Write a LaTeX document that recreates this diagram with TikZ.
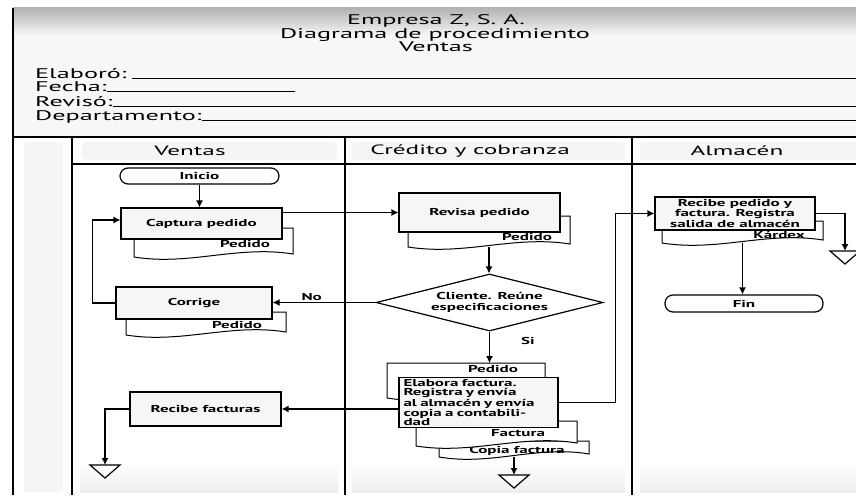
\documentclass[tikz,border=0pt]{standalone}
\usepackage{fontspec}
\setmainfont[FakeStretch=1.87]{PT Sans}
\newfontfamily\cajafont[FakeStretch=1.7]{PT Sans}
\usetikzlibrary{shapes.geometric,arrows.meta}
\newcommand{\documento}[7]{%
 \draw[doc] (#2,#3) -- (#4,#3) -- (#4,#5-3) .. controls ({#2+0.65*(#4-#2)},{#5-12}) and ({#2+0.35*(#4-#2)},{#5+9}) .. (#2,#5) -- cycle;%
 \coordinate (#1) at ({(#2+#4)/2},#5);%
 \coordinate (#1-top) at ({(#2+#4)/2},#3);%
 \node[doclabel] (#1-txt) at (#6) {#7};%
}
\newcommand{\archivo}[2]{%
 \coordinate (#1) at (#2);%
 \draw[conector,fill=white] (#1) ++(-15,0) -- ++(30,0) -- ++(-15,13) -- cycle;%
}
\tikzset{
 titulo/.style={anchor=base,inner sep=0pt,font=\fontsize{14}{14}\selectfont},
 campo/.style={anchor=base west,inner sep=0pt,font=\fontsize{14}{14}\selectfont},
 carril/.style={line width=2pt},
 cabecera/.style={inner sep=0pt,font=\fontsize{13.5}{14}\selectfont},
 proceso/.style={draw,line width=1.2pt,fill=gray!7,inner sep=2pt,align=center,font=\cajafont\bfseries\fontsize{10}{9}\selectfont},
 terminal/.style={draw,line width=1.2pt,fill=white,rounded corners=8pt,minimum width=159pt,minimum height=16pt,inner sep=0pt,font=\cajafont\bfseries\fontsize{10}{9}\selectfont},
 decision/.style={diamond,aspect=4,draw,line width=1.2pt,fill=white,minimum width=227pt,minimum height=57pt,inner sep=0pt,align=center,font=\cajafont\bfseries\fontsize{10}{11}\selectfont},
 doc/.style={draw,line width=1pt,fill=white},
 doclabel/.style={inner sep=0pt,font=\cajafont\bfseries\fontsize{10}{9}\selectfont},
 conector/.style={line width=1.2pt},
 etiqueta/.style={inner sep=1pt,font=\cajafont\bfseries\fontsize{10}{9}\selectfont},
}
\begin{document}
\begin{tikzpicture}[x=1pt,y=-1pt,>={Latex[length=7pt,width=7pt]}]
 \useasboundingbox (0,0) rectangle (856,495);
 % encabezado
 \shade[top color=gray!60,bottom color=gray!6] (13,8) rectangle (856,36);
 \fill[gray!6] (13,36) rectangle (856,137);
 \node[titulo] (empresa) at (436,25) {Empresa Z, S. A.};
 \node[titulo] (diagrama) at (435,38.5) {Diagrama de procedimiento};
 \node[titulo] (nombre) at (436,52) {Ventas};
 \node[campo] (elaboro) at (35,78) {Elaboró:};
 \node[campo] (fecha) at (35,91) {Fecha:};
 \node[campo] (reviso) at (35,106) {Revisó:};
 \node[campo] (depto) at (35,120) {Departamento:};
 \draw[line width=0.8pt] (elaboro.base east) ++(5,0) -- (856,78);
 \draw[line width=0.8pt] (fecha.base east) -- (295,91);
 \draw[line width=0.8pt] (reviso.base east) -- (856,106);
 \draw[line width=0.8pt] (depto.base east) -- (856,120);
 % carriles
 \fill[gray!8,rounded corners=3pt] (24,142) rectangle (63,492);
 \fill[gray!8,rounded corners=3pt] (82,142) rectangle (337,160);
 \fill[gray!8,rounded corners=3pt] (352,142) rectangle (625,160);
 \fill[gray!8,rounded corners=3pt] (640,142) rectangle (860,160);
 \shade[top color=white,bottom color=gray!14] (80,462) rectangle (338,492);
 \shade[top color=white,bottom color=gray!14] (352,462) rectangle (625,492);
 \shade[top color=white,bottom color=gray!14] (640,462) rectangle (860,492);
 \draw[carril] (13,8) -- (13,495);
 \draw[carril] (13,137) -- (856,137);
 \draw[carril] (72,164) -- (856,164);
 \foreach \x in {72,345,632} \draw[carril] (\x,137) -- (\x,495);
 \node[cabecera] (ventas) at (190,151) {Ventas};
 \node[cabecera] (credito) at (470,151) {Crédito y cobranza};
 \node[cabecera] (almacen) at (737,151) {Almacén};
 % ventas
 \node[terminal] (inicio) at (199.5,176) {Inicio};
 \documento{dcap}{134}{228}{293}{257}{245,244}{Pedido}
 \node[proceso,minimum width=161pt,minimum height=31pt] (captura) at (201.5,223.5) {Captura pedido};
 \documento{dcor}{126}{312}{286}{335}{237,325}{Pedido}
 \node[proceso,minimum width=156pt,minimum height=32pt] (corrige) at (194,303) {Corrige};
 \node[proceso,minimum width=151pt,minimum height=34pt] (recfac) at (205.5,409) {Recibe facturas};
 \archivo{arch1}{105,465}
 % credito y cobranza
 \documento{drev}{408}{216}{570}{247}{527,237}{Pedido}
 \node[proceso,minimum width=161pt,minimum height=39pt] (revisa) at (479.5,212.5) {Revisa pedido};
 \node[decision] (cliente) at (489.5,302.5) {Cliente. Reúne\\especificaciones};
 \documento{dcop}{439}{441}{589}{457}{517,451}{Copia factura}
 \documento{dfac}{416}{421}{577}{446}{518,433}{Factura}
 \documento{dped}{387}{363}{545}{398}{493,369}{Pedido}
 \node[proceso,minimum width=159pt,minimum height=49pt,text width=150pt,align=left,inner xsep=4.5pt] (elabora) at (478.5,402.5) {Elabora factura.\\Registra y envía\\al almacén y envía\\copia a contabili-\\dad};
 \archivo{arch3}{514,475}
 % almacen
 \documento{dkar}{662}{221}{823}{243}{779,235}{Kárdex}
 \node[proceso,minimum width=160pt,minimum height=33pt] (recped) at (735,213.5) {Recibe pedido y\\factura. Registra\\salida de almacén};
 \node[terminal,minimum width=158pt,minimum height=17pt] (fin) at (744,303.5) {Fin};
 \archivo{arch2}{845,251}
 % conectores
 \draw[conector,->] (inicio.south) -- (inicio.south |- captura.north);
 \draw[conector,->] (captura.east |- revisa.west) -- (revisa.west);
 \draw[conector,->] (drev) -- (drev |- cliente.north);
 \draw[conector,->] (cliente.west) -- node[etiqueta,above,pos=0.62]{No} (corrige.east |- cliente.west);
 \draw[conector,->] (cliente.south) -- node[etiqueta,right=30pt,pos=0.3]{Si} (cliente.south |- dped-top);
 \draw[conector,->] (corrige.west) -- ++(-23,0) |- ([yshift=3.5pt]captura.west);
 \draw[conector,->] (elabora.east) -- ++(57,0) |- (recped.west);
 \draw[conector,->] (elabora.west |- recfac.east) -- (recfac.east);
 \draw[conector,->] (recfac.west) -| (arch1);
 \draw[conector,->] (recped.east) -| (arch2);
 \draw[conector,->] (dkar) -- (dkar |- fin.north);
 \draw[conector,->] (dcop) -- (arch3);
\end{tikzpicture}
\end{document}
